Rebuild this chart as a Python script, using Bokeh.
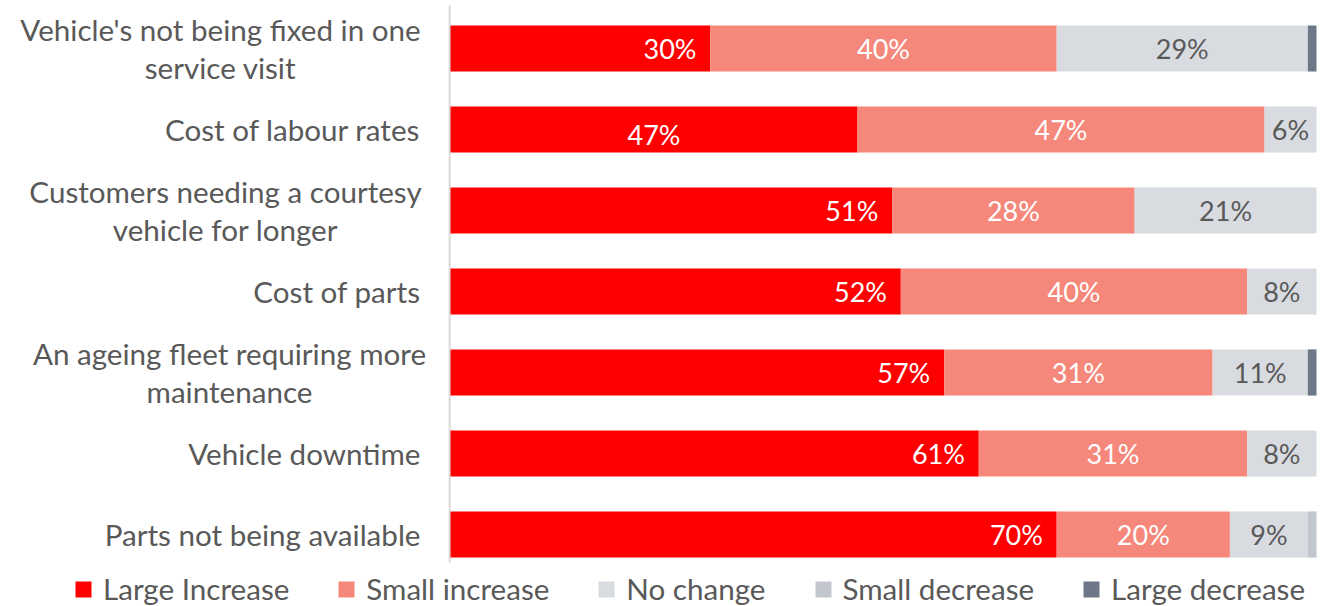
from bokeh.plotting import figure
from bokeh.models import ColumnDataSource, Legend, LegendItem, Range1d
from bokeh.embed import file_html
from bokeh.resources import INLINE
from bokeh.core.properties import value

categories = [
    "Vehicle's not being fixed in one\nservice visit",
    "Cost of labour rates",
    "Customers needing a courtesy\nvehicle for longer",
    "Cost of parts",
    "An ageing fleet requiring more\nmaintenance",
    "Vehicle downtime",
    "Parts not being available",
]
series_names = ["Large Increase", "Small increase", "No change", "Small decrease", "Large decrease"]
large_increase = [30, 47, 51, 52, 57, 61, 70]
small_increase = [40, 47, 28, 40, 31, 31, 20]
no_change = [29, 6, 21, 8, 11, 8, 9]
small_decrease = [0, 0, 0, 0, 0, 0, 1]
large_decrease = [1, 0, 0, 0, 1, 0, 0]

# ---- style ----
colors = ["#FF0000", "#F5877B", "#D8DBE0", "#C2C7CD", "#6C7888"]
large_label_anchor = ["end", "center", "end", "end", "end", "end", "end"]
large_label_dy = [0, -0.06, 0, 0, 0, 0, 0]
label_block_px = [400, 0, 390, 0, 382, 0, 0]   # width of wrapped label blocks (centred lines)
FONT = "Lato"
TXT = "#595959"
W, H = 1321, 606
LEFT_PX = 450                       # where 0% sits
RIGHT_PX = 1316                     # where 100% sits
PX = (RIGHT_PX - LEFT_PX) / 100.0   # pixels per percent
X0 = -LEFT_PX / PX
X1 = 100 + (W - RIGHT_PX) / PX
ROW_PX = 81.0
Y_TOP = 6 + 48 / ROW_PX
Y_BOT = Y_TOP - H / ROW_PX

n = len(categories)
ypos = [n - 1 - i for i in range(n)]   # first category on top

keys = ["li", "si", "nc", "sd", "ld"]
data = {"y": ypos}
for k, vals in zip(keys, [large_increase, small_increase, no_change, small_decrease, large_decrease]):
    data[k] = vals
src = ColumnDataSource(data)

p = figure(width=W, height=H, x_range=Range1d(X0, X1), y_range=Range1d(Y_BOT, Y_TOP),
           output_backend="svg", toolbar_location=None,
           min_border_left=0, min_border_right=0, min_border_top=0, min_border_bottom=0)
p.xaxis.visible = False
p.yaxis.visible = False
p.xgrid.visible = False
p.ygrid.visible = False
p.outline_line_color = None

# value axis line
p.segment(x0=[-0.1], y0=[6 - 514 / ROW_PX], x1=[-0.1], y1=[6 + 43 / ROW_PX],
          line_color="#D9D9D9", line_width=2)

renderers = p.hbar_stack(keys, y="y", height=0.57, color=colors, source=src, line_width=0)

# data labels
lx, ly, lt, la = [], [], [], []
wx, wy, wt = [], [], []
gx, gy, gt = [], [], []
for i in range(n):
    li, si, nc = large_increase[i], small_increase[i], no_change[i]
    if large_label_anchor[i] == "end":
        lx.append(li - 1.6); la.append("right")
    else:
        lx.append(li / 2); la.append("center")
    ly.append(ypos[i] + large_label_dy[i]); lt.append(f"{li}%")
    wx.append(li + si / 2); wy.append(ypos[i]); wt.append(f"{si}%")
    gx.append(li + si + nc / 2); gy.append(ypos[i]); gt.append(f"{nc}%")

lsrc = ColumnDataSource(dict(x=lx, y=ly, t=lt, a=la))
p.text(x="x", y="y", text="t", text_align="a", text_baseline="middle", source=lsrc,
       text_color="white", text_font=value(FONT), text_font_size="27px")
p.text(x=wx, y=wy, text=wt, text_align="center", text_baseline="middle",
       text_color="white", text_font=value(FONT), text_font_size="27px")
p.text(x=gx, y=gy, text=gt, text_align="center", text_baseline="middle",
       text_color=TXT, text_font=value(FONT), text_font_size="27px")

# category labels
right_edge = -30 / PX
cx, ca = [], []
for i in range(n):
    if label_block_px[i]:
        cx.append(right_edge - label_block_px[i] / 2 / PX); ca.append("center")
    else:
        cx.append(right_edge); ca.append("right")
csrc = ColumnDataSource(dict(x=cx, y=ypos, t=categories, a=ca))
p.text(x="x", y="y", text="t", text_align="a", text_baseline="middle", source=csrc,
       text_color=TXT, text_font=value(FONT), text_font_size="29.6px", text_line_height=1.1)

items = [LegendItem(label=nm, renderers=[r]) for nm, r in zip(series_names, renderers)]
legend = Legend(items=items, orientation="horizontal", location=(73, 0),
                label_text_font=FONT, label_text_font_size="29.6px", label_text_color=TXT,
                glyph_width=20, glyph_height=20, label_standoff=10, spacing=47,
                padding=0, margin=0, border_line_color=None, background_fill_alpha=0)
p.add_layout(legend)

open("out.html", "w").write(file_html(p, INLINE))
